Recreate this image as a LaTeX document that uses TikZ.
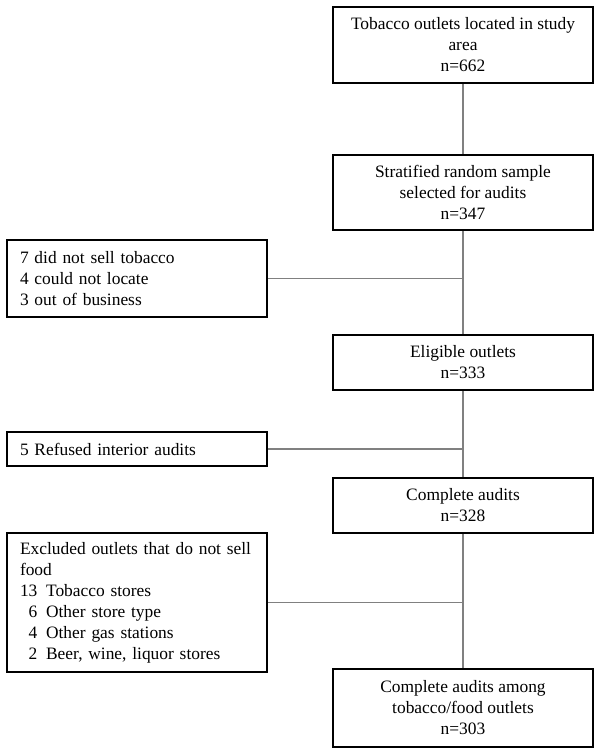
\documentclass[tikz,border=0pt]{standalone}
\usepackage{fontspec}
\setmainfont{Liberation Serif}
\usetikzlibrary{calc}

\begin{document}
\begin{tikzpicture}[x=1pt, y=-1pt,
    font=\fontsize{17.4}{21}\selectfont,
    mainbox/.style={draw, line width=2.6pt, minimum width=260pt, inner sep=0pt, align=center},
    sidebox/.style={draw, line width=2.6pt, text width=234pt, inner xsep=13pt, inner ysep=0pt, align=left},
    link/.style={draw=gray, line width=1.2pt}]

        % fix the page to the size of the chart
        \useasboundingbox (0,0) rectangle (602,753);

        % the main column of the flow chart
        \node[mainbox, minimum height=76pt] (L) at (463,45) {Tobacco outlets located in study\\area\\n=662};
        \node[mainbox, minimum height=75pt] (S) at (463,192.5) {Stratified random sample\\selected for audits\\n=347};
        \node[mainbox, minimum height=55pt] (E) at (463,362.5) {Eligible outlets\\n=333};
        \node[mainbox, minimum height=55pt] (C) at (463,505.5) {Complete audits\\n=328};
        \node[mainbox, minimum height=78pt] (F) at (463,708) {Complete audits among\\tobacco/food outlets\\n=303};

        % the boxes of outlets taken out on the left
        \node[sidebox, minimum height=77pt] (N) at (137,278.5) {7 did not sell tobacco\\4 could not locate\\3 out of business};
        \node[sidebox, minimum height=34pt] (R) at (137,449) {5 Refused interior audits};
        \node[sidebox, minimum height=139pt] (X) at (137,602.5) {Excluded outlets that do not sell\\food\\
            13\enspace Tobacco stores\\
            \hphantom{1}6\enspace Other store type\\
            \hphantom{1}4\enspace Other gas stations\\
            \hphantom{1}2\enspace Beer, wine, liquor stores};

        % join the main column
        \draw[link] (L) -- (S);
        \draw[link] (S) -- (E);
        \draw[link] (E) -- (C);
        \draw[link] (C) -- (F);

        % join the side boxes to the column
        \draw[link] (N.east) -- (N.east -| S.south);
        \draw[link] (R.east) -- (R.east -| E.south);
        \draw[link] (X.east) -- (X.east -| C.south);
\end{tikzpicture}
\end{document}
